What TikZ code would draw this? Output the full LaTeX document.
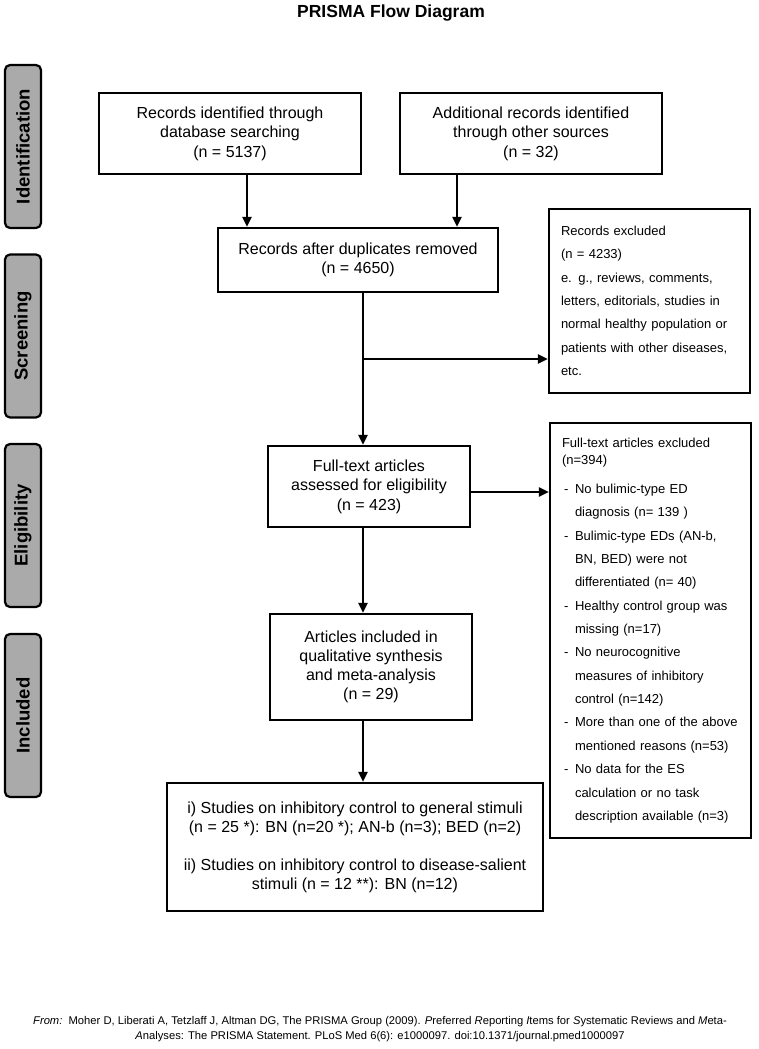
\documentclass[tikz,border=0pt]{standalone}
\usepackage{fontspec}
\setmainfont{Liberation Sans}
\usetikzlibrary{arrows.meta,positioning}
\definecolor{phasegray}{RGB}{170,170,170}
\newcommand{\exdash}{\makebox[13pt][l]{\hspace{2pt}-}}
\newcommand{\exindent}{\hspace*{13pt}}
\tikzset{>={Triangle[length=10pt,width=9pt]},
  box/.style={draw,line width=2.2pt,align=center,inner sep=0pt,font=\fontsize{16}{19.5}\selectfont},
  exclbox/.style={draw,line width=2.2pt,align=left,inner xsep=12pt,inner ysep=0pt,text width=177pt,minimum width=201pt,font=\fontsize{13}{23.35}\selectfont},
  phase/.style={draw,line width=2.2pt,fill=phasegray,rounded corners=5pt,rotate=90,minimum width=163pt,minimum height=36pt,inner sep=0pt,font=\bfseries\fontsize{18.5}{20}\selectfont},
  flow/.style={->,line width=2pt}}

\begin{document}
\begin{tikzpicture}[x=1pt,y=-1pt]
\useasboundingbox (0,0) rectangle (758,1049);
\node[font=\bfseries\fontsize{17.5}{20}\selectfont] (title) at (391,13) {PRISMA Flow Diagram};

\node[phase] (ident) at (23,146.5) {Identification};
\node[phase] (screen) at (23,336) {Screening};
\node[phase] (elig) at (23,525.5) {Eligibility};
\node[phase] (incl) at (23,715.5) {Included};

\node[box,minimum width=262pt,minimum height=81pt] (db) at (230,133.5) {Records identified through\\database searching\\(n = 5137)};
\node[box,minimum width=262pt,minimum height=81pt] (other) at (531,133.5) {Additional records identified\\through other sources\\(n = 32)};
\node[box,minimum width=280pt,minimum height=64pt] (dedup) at (358,260) {Records after duplicates removed\\(n = 4650)};
\node[exclbox,minimum height=184pt] (excl1) at (649.5,301) {Records excluded\\(n = 4233)\\e. g., reviews, comments,\\letters, editorials, studies in\\normal healthy population or\\patients with other diseases,\\etc.};
\node[box,minimum width=202pt,minimum height=81pt] (fulltext) at (369,486.5) {Full-text articles\\assessed for eligibility\\(n = 423)};
\node[exclbox,minimum height=415pt] (excl2) at (650.5,630.5) {Full-text articles excluded\\[-6.3pt](n=394)\\[5.7pt]
\exdash No bulimic-type ED\\\exindent diagnosis (n= 139 )\\
\exdash Bulimic-type EDs (AN-b,\\\exindent BN, BED) were not\\\exindent differentiated (n= 40)\\
\exdash Healthy control group was\\\exindent missing (n=17)\\
\exdash No neurocognitive\\\exindent measures of inhibitory\\\exindent control (n=142)\\
\exdash More than one of the above\\\exindent mentioned reasons (n=53)\\
\exdash No data for the ES\\\exindent calculation or no task\\\exindent description available (n=3)};
\node[box,minimum width=202pt,minimum height=106pt,font=\fontsize{16}{19}\selectfont] (articles) at (371,667) {Articles included in\\qualitative synthesis\\and meta-analysis\\(n = 29)};
\node[box,minimum width=376pt,minimum height=128pt,font=\fontsize{16}{19}\selectfont] (final) at (355,847) {i) Studies on inhibitory control to general stimuli\\(n = 25 *): BN (n=20 *); AN-b (n=3); BED (n=2)\\[19pt]ii) Studies on inhibitory control to disease-salient\\stimuli (n = 12 **): BN (n=12)};

\node[align=center,font=\fontsize{11.2}{14.5}\selectfont] (cite) at (380,1029) {\textit{From:}\ \ Moher D, Liberati A, Tetzlaff J, Altman DG, The PRISMA Group (2009). \textit{P}referred \textit{R}eporting \textit{I}tems for \textit{S}ystematic Reviews and \textit{M}eta-\\\textit{A}nalyses: The PRISMA Statement. PLoS Med 6(6): e1000097. doi:10.1371/journal.pmed1000097};

\coordinate (spine) at (363,0);
\coordinate (branch) at (363,359);
\draw[flow] ([xshift=17pt]db.south) -- ([xshift=17pt]db.south |- dedup.north);
\draw[flow] ([xshift=-74pt]other.south) -- ([xshift=-74pt]other.south |- dedup.north);
\draw[flow] (dedup.south -| spine) -- (fulltext.north -| spine);
\draw[flow] (branch) -- (branch -| excl1.west);
\draw[flow] ([yshift=-5.5pt]fulltext.east) -- ([yshift=-5.5pt]fulltext.east -| excl2.west);
\draw[flow] (fulltext.south -| spine) -- (articles.north -| spine);
\draw[flow] (articles.south -| spine) -- (final.north -| spine);
\end{tikzpicture}
\end{document}
